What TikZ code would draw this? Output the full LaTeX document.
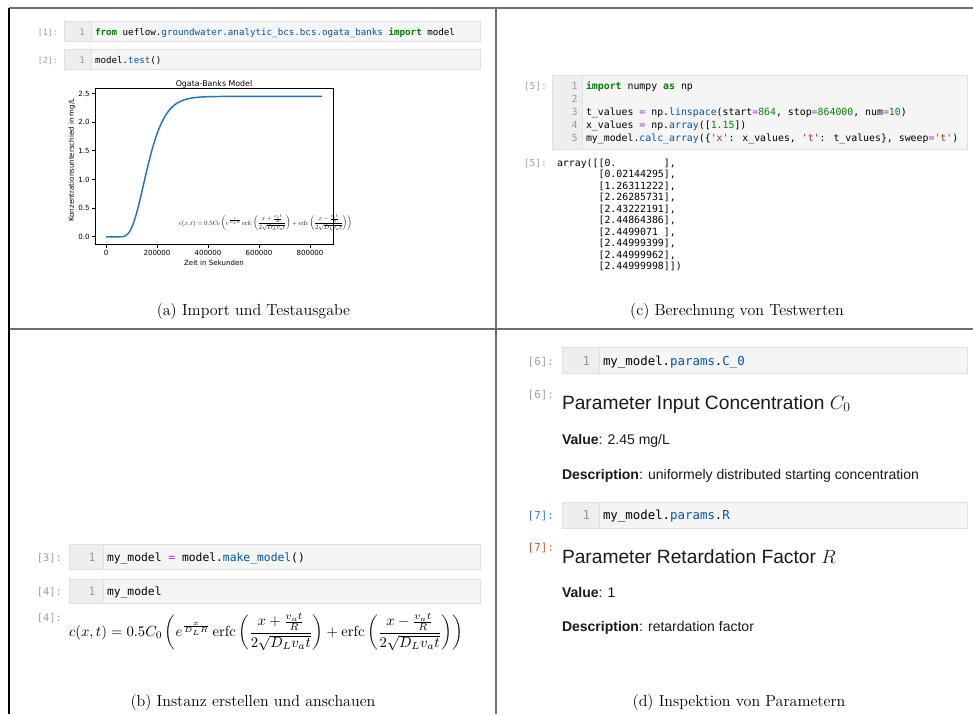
\documentclass[tikz,border=0pt]{standalone}
\usepackage{fontspec}
\usepackage{amsmath}
\usepackage{graphicx}
\newfontfamily\codefont{DejaVu Sans Mono}
\newfontfamily\plotfont{DejaVu Sans}
\newfontfamily\nbfont{Liberation Sans}
\definecolor{kwgreen}{HTML}{008000}
\definecolor{nmblue}{HTML}{0055AA}
\definecolor{oppurple}{HTML}{AA22FF}
\definecolor{numgreen}{HTML}{008800}
\definecolor{strred}{HTML}{BA2121}
\definecolor{promptgray}{HTML}{A0A0A0}
\definecolor{promptblue}{HTML}{307FC1}
\definecolor{promptred}{HTML}{BF5B3D}
\definecolor{cellbg}{HTML}{F5F5F5}
\definecolor{gutterbg}{HTML}{EEEEEE}
\definecolor{cellborder}{HTML}{E0E0E0}
\definecolor{linenum}{HTML}{999999}
\definecolor{framegray}{HTML}{6E6E6E}
\definecolor{mplblue}{HTML}{1F77B4}
\definecolor{nbtext}{HTML}{1A1A1A}
\newcommand\kw[1]{\textcolor{kwgreen}{\bfseries #1}}
\newcommand\nm[1]{\textcolor{nmblue}{#1}}
\newcommand\op[1]{\textcolor{oppurple}{#1}}
\newcommand\cnum[1]{\textcolor{numgreen}{#1}}
\newcommand\cstr[1]{\textcolor{strred}{#1}}
\newcommand\ogata{c(x,t)=0.5C_0\left(e^{\frac{x}{D_L R}}\,\mathrm{erfc}\left(\frac{x+\frac{v_a t}{R}}{2\sqrt{D_L v_a t}}\right)+\mathrm{erfc}\left(\frac{x-\frac{v_a t}{R}}{2\sqrt{D_L v_a t}}\right)\right)}
\newcommand\nbcell[5]{%
  \fill[cellbg] (#1,#2) rectangle (#3,#4);
  \fill[gutterbg] (#1,#2) rectangle (#5,#4);
  \draw[cellborder, line width=0.75pt] (#1,#2) rectangle (#3,#4);
  \draw[cellborder, line width=0.75pt] (#5,#2) -- (#5,#4);}
\begin{document}
\begin{tikzpicture}[x=0.75pt, y=-0.75pt,
  every node/.style={inner sep=0pt, outer sep=0pt},
  frameline/.style={draw=framegray, line width=1.3pt},
  codeA/.style={font=\fontsize{6.9}{8}\codefont, anchor=base west},
  codeB/.style={font=\fontsize{8.5}{10}\codefont, anchor=base west},
  codeC/.style={font=\fontsize{7.4}{9}\codefont, anchor=base west},
  codeD/.style={font=\fontsize{9.3}{11}\codefont, anchor=base west},
  lnA/.style={font=\fontsize{6.9}{8}\codefont, anchor=base east, text=linenum},
  lnB/.style={font=\fontsize{8.5}{10}\codefont, anchor=base east, text=linenum},
  lnC/.style={font=\fontsize{7.4}{9}\codefont, anchor=base east, text=linenum},
  lnD/.style={font=\fontsize{9.3}{11}\codefont, anchor=base east, text=linenum},
  promptA/.style={font=\fontsize{6.3}{8}\codefont, anchor=base east, text=promptgray},
  promptB/.style={font=\fontsize{7.8}{9}\codefont, anchor=base east, text=promptgray},
  promptC/.style={font=\fontsize{7.2}{9}\codefont, anchor=base east, text=promptgray},
  promptD/.style={font=\fontsize{8.2}{10}\codefont, anchor=base east, text=promptgray},
  caption/.style={font=\fontsize{12}{14}\selectfont, anchor=base},
  plottext/.style={font=\fontsize{5.3}{6}\plotfont},
  heading/.style={font=\fontsize{14.4}{17}\nbfont, text=nbtext, anchor=base west},
  body/.style={font=\fontsize{10.5}{12}\nbfont, text=nbtext, anchor=base west},
  curve/.style={draw=mplblue, line width=1.1pt, line join=round},
  declare function={uu(\t)=(\t/163.5-1)/(2*sqrt(0.0527*\t/163.5));
    ea(\t)=1.1284*uu(\t)+0.1009*uu(\t)*uu(\t)*uu(\t);
    cc(\t)=1.225*(1+tanh(max(-4.5,min(4.5,ea(\t)))));}
  ]
\useasboundingbox (0,0) rectangle (973,714);
\fill[white] (0,0) rectangle (973,714);

% ---------------- frame
\draw[frameline] (9,8) -- (973,8);
\draw[frameline] (9,329) -- (973,329);
\draw[frameline] (496,8) -- (496,714);
\draw[black, line width=1.1pt] (9,8) -- (9,714);

% ---------------- panel (a)
\nbcell{64}{21}{480}{41}{91.5}
\nbcell{64}{49}{480}{69}{91.5}
\node[promptA] (pa1) at (58,35) {[1]:};
\node[lnA] (la1) at (85,35) {1};
\node[codeA] (ca1) at (95,35) {\kw{from} ueflow.\nm{groundwater.analytic\_bcs.bcs.ogata\_banks} \kw{import} model};
\node[promptA] (pa2) at (58,63) {[2]:};
\node[lnA] (la2) at (85,63) {1};
\node[codeA] (ca2) at (95,63) {model.\nm{test}()};

% plot
\node[plottext, anchor=base, font=\fontsize{5.9}{7}\plotfont] (ptitle) at (214,86) {Ogata-Banks Model};
\draw[curve] (106,236.8) -- plot[domain=25:848, samples=170] ({106+0.255*\x},{236.8-57.3*cc(\x)});
\draw[black, line width=0.6pt] (95,88) rectangle (333,244);
\foreach \v/\l in {0/0.0, 0.5/0.5, 1/1.0, 1.5/1.5, 2/2.0, 2.5/2.5} {
  \draw[black, line width=0.6pt] (95,{236.8-57.3*\v}) -- (91.5,{236.8-57.3*\v});
  \node[plottext, anchor=east] (yt\l) at (89.5,{236.8-57.3*\v}) {\l};
}
\foreach \k/\l in {0/0, 1/200000, 2/400000, 3/600000, 4/800000} {
  \draw[black, line width=0.6pt] ({106+51*\k},244) -- ({106+51*\k},247.5);
  \node[plottext, anchor=base] (xt\k) at ({106+51*\k},255) {\l};
}
\node[plottext, anchor=base] (xlab) at (214,265) {Zeit in Sekunden};
\node[plottext, rotate=90, anchor=center] (ylab) at (72,160) {Konzentrationsunterschied in mg/L};
\node[anchor=center] (pform) at (265.5,223) {\resizebox{129.5pt}{!}{$\displaystyle\ogata$}};

\node[caption] (capa) at (253.5,315) {(a) Import und Testausgabe};

% ---------------- panel (c)
\nbcell{552}{75}{967}{149}{582}
\node[promptC] (pc1) at (547,89.5) {[5]:};
\foreach \n in {1,...,5} {
  \node[lnC] (lc\n) at (577.5,{89.5+13.1*(\n-1)}) {\n};
}
\node[codeC] (cc1) at (586,89.5) {\kw{import} numpy \kw{as} np};
\node[codeC] (cc3) at (586,115.7) {t\_values \op{=} np.\nm{linspace}(start\op{=}\cnum{864}, stop\op{=}\cnum{864000}, num\op{=}\cnum{10})};
\node[codeC] (cc4) at (586,128.8) {x\_values \op{=} np.\nm{array}([\cnum{1.15}])};
\node[codeC] (cc5) at (586,141.9) {my\_model.\nm{calc\_array}(\{\cstr{'x'}: x\_values, \cstr{'t'}: t\_values\}, sweep\op{=}\cstr{'t'})};
\node[promptC] (pc2) at (547,166.5) {[5]:};
\node[codeC] (oc1) at (557,166.5) {array([[0.\phantom{00000000}],};
\foreach \i/\val in {1/0.02144295, 2/1.26311222, 3/2.26285731, 4/2.43222191, 5/2.44864386, 6/{2.4499071\phantom{0}}, 7/2.44999399, 8/2.44999962} {
  \node[codeC] (ocl\i) at (557,{166.5+11.45*\i}) {\phantom{array([}[\val],};
}
\node[codeC] (oc10) at (557,{166.5+11.45*9}) {\phantom{array([}[2.44999998]])};

\node[caption] (capc) at (737,315) {(c) Berechnung von Testwerten};

% ---------------- panel (b)
\nbcell{69}{544}{480}{569}{103}
\nbcell{69}{579}{480}{603}{103}
\node[promptB] (pb3) at (62,561) {[3]:};
\node[lnB] (lb3) at (95.5,561) {1};
\node[codeB] (cb3) at (107,561) {my\_model \op{=} model.\nm{make\_model}()};
\node[promptB] (pb4) at (62,595) {[4]:};
\node[lnB] (lb4) at (95.5,595) {1};
\node[codeB] (cb4) at (107,595) {my\_model};
\node[promptB] (pb4o) at (62,621) {[4]:};
\node[anchor=west] (bform) at (69,632) {\resizebox{295.5pt}{!}{$\displaystyle\ogata$}};

\node[caption] (capb) at (253,706) {(b) Instanz erstellen und anschauen};

% ---------------- panel (d)
\nbcell{562}{347}{967}{373}{599}
\node[promptD] (pd6) at (554,365) {[6]:};
\node[lnD] (ld6) at (590,365) {1};
\node[codeD] (cd6) at (603,365) {my\_model.\nm{params}.\nm{C\_0}};
\node[promptD] (pd6o) at (554,398) {[6]:};
\node[heading] (hd6) at (562,409) {Parameter Input Concentration $C_0$};
\node[body] (vd6) at (562,444) {\textbf{Value}: 2.45 mg/L};
\node[body] (dd6) at (562,479) {\textbf{Description}: uniformely distributed starting concentration};

\nbcell{562}{502}{967}{528}{599}
\node[promptD, text=promptblue] (pd7) at (554,519.5) {[7]:};
\node[lnD] (ld7) at (590,519.5) {1};
\node[codeD] (cd7) at (603,519.5) {my\_model.\nm{params}.\nm{R}};
\node[promptD, text=promptred] (pd7o) at (554,551) {[7]:};
\node[heading] (hd7) at (562,563) {Parameter Retardation Factor $R$};
\node[body] (vd7) at (562,597) {\textbf{Value}: 1};
\node[body] (dd7) at (562,631) {\textbf{Description}: retardation factor};

\node[caption] (capd) at (739,706) {(d) Inspektion von Parametern};
\end{tikzpicture}
\end{document}
